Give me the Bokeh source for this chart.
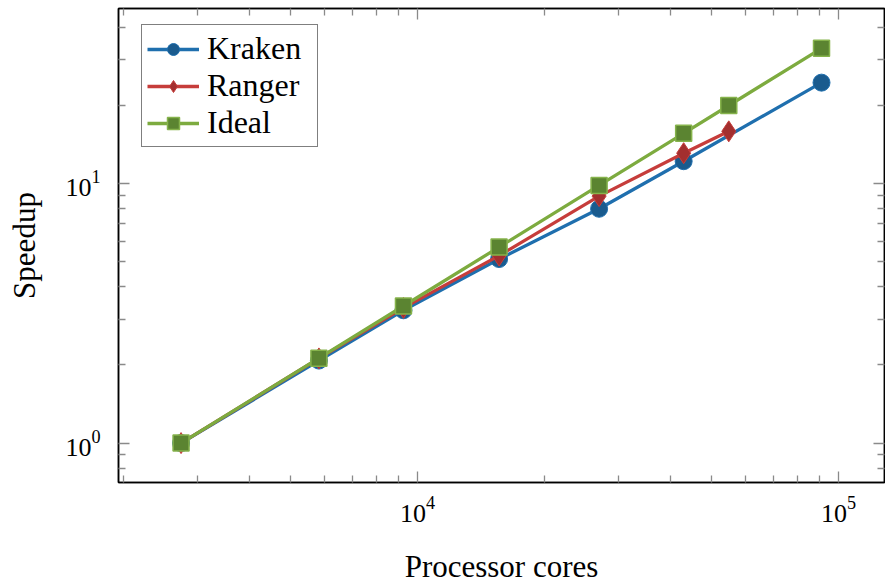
from bokeh.plotting import figure
from bokeh.models import LogAxis, Range1d, FixedTicker, LogTickFormatter
from bokeh.embed import file_html
from bokeh.resources import INLINE

# ---- data ----
cores = [2744, 5832, 9261, 15625, 27000, 42875, 54872, 91125]
ideal_speedup = [1.0, 2.125, 3.375, 5.694, 9.84, 15.625, 20.0, 33.21]
kraken_cores = [2744, 5832, 9261, 15625, 27000, 42875, 91125]
kraken_speedup = [1.0, 2.08, 3.25, 5.12, 8.0, 12.2, 24.5]
ranger_cores = [2744, 5832, 9261, 15625, 27000, 42875, 54872]
ranger_speedup = [1.0, 2.12, 3.32, 5.28, 8.95, 13.1, 15.9]

x_major_ticks = [1e3, 1e4, 1e5]
y_major_ticks = [1e0, 1e1, 1e2]
x_minor_ticks = [m * d for d in (1e3, 1e4, 1e5) for m in range(2, 10)]
y_minor_ticks = [m * d for d in (1e-1, 1e0, 1e1) for m in range(2, 10)]

x_label = "Processor cores"
y_label = "Speedup"

SERIF = "Liberation Serif"

p = figure(width=885, height=586, x_axis_type="log", y_axis_type="log",
           x_range=Range1d(1949, 128600), y_range=Range1d(0.705, 47.3),
           output_backend="svg", toolbar_location=None,
           min_border_left=118, min_border_right=1, min_border_top=8,
           min_border_bottom=103)
p.grid.visible = False
p.outline_line_color = "black"
p.outline_line_width = 1.5
p.background_fill_color = "white"
p.border_fill_color = "white"

xt = FixedTicker(ticks=x_major_ticks, minor_ticks=x_minor_ticks)
yt = FixedTicker(ticks=y_major_ticks, minor_ticks=y_minor_ticks)

p.below[0].ticker = xt
p.left[0].ticker = yt
p.below[0].formatter = LogTickFormatter()
p.left[0].formatter = LogTickFormatter()

# extra axes on top and right (ticks only)
p.add_layout(LogAxis(ticker=xt), "above")
p.add_layout(LogAxis(ticker=yt), "right")

for ax in p.below + p.left + p.above + p.right:
    ax.axis_line_color = "black"
    ax.axis_line_width = 1.5
    ax.major_tick_in = 11
    ax.major_tick_out = 0
    ax.minor_tick_in = 7
    ax.minor_tick_out = 0
    ax.major_tick_line_color = "#8a8a8a"
    ax.minor_tick_line_color = "#8a8a8a"
    ax.major_tick_line_width = 1.3
    ax.minor_tick_line_width = 1.3
    ax.major_label_text_font = SERIF
    ax.major_label_text_font_size = "26px"
    ax.major_label_text_color = "black"
    ax.axis_label_text_font = SERIF
    ax.axis_label_text_font_size = "31px"
    ax.axis_label_text_font_style = "normal"
    ax.axis_label_text_color = "black"

for ax in (p.above[0], p.right[0]):
    ax.major_label_text_font_size = "1px"
    ax.major_label_text_color = None
    ax.major_label_standoff = 0

p.below[0].axis_label = x_label
p.left[0].axis_label = y_label
p.below[0].major_label_standoff = 14
p.below[0].axis_label_standoff = 24
p.left[0].major_label_standoff = 18
p.left[0].axis_label_standoff = 20

# series
k_line, k_fill = "#1f6fae", "#1a5b8e"
r_line, r_fill = "#c63d3b", "#a32f2f"
i_line, i_fill = "#7dab3f", "#5b8431"

p.line(kraken_cores, kraken_speedup, color=k_line, line_width=3.3, legend_label="Kraken")
p.scatter(kraken_cores, kraken_speedup, marker="circle", size=17, fill_color=k_fill,
          line_color=k_line, line_width=1, legend_label="Kraken")

p.line(ranger_cores, ranger_speedup, color=r_line, line_width=3.3, legend_label="Ranger")
p.scatter(ranger_cores, ranger_speedup, marker="diamond", size=21, fill_color=r_fill,
          line_color=r_line, line_width=1, legend_label="Ranger")

p.line(cores, ideal_speedup, color=i_line, line_width=3.3, legend_label="Ideal")
p.scatter(cores, ideal_speedup, marker="square", size=16, fill_color=i_fill,
          line_color="#86b34c", line_width=1.5, legend_label="Ideal")

lg = p.legend[0]
lg.location = (23, 335)
lg.margin = 0
lg.border_line_color = "black"
lg.border_line_width = 1.2
lg.background_fill_alpha = 1
lg.padding = 5
lg.spacing = 0
lg.glyph_width = 52
lg.glyph_height = 30
lg.label_height = 30
lg.label_width = 105
lg.label_standoff = 8
lg.label_text_font = SERIF
lg.label_text_font_size = "32px"
lg.label_text_color = "black"

open("out.html", "w").write(file_html(p, INLINE))
